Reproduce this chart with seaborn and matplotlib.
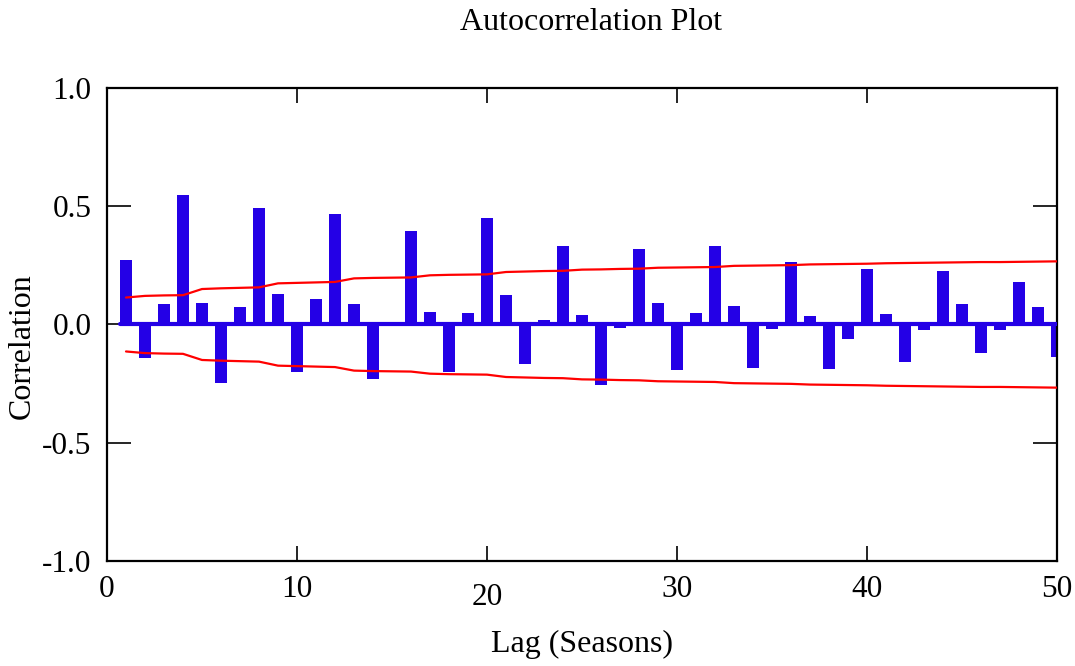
import numpy as np
import pandas as pd
import matplotlib
matplotlib.use("Agg")
import matplotlib.pyplot as plt
from matplotlib.transforms import ScaledTranslation
import seaborn as sns

# ---- data ----
lags = list(range(1, 51))
acf = [0.272, -0.141, 0.088, 0.548, 0.092, -0.247, 0.076, 0.493, 0.127, -0.200,
       0.109, 0.469, 0.088, -0.230, 0.011, 0.395, 0.051, -0.199, 0.048, 0.450,
       0.125, -0.165, 0.018, 0.330, 0.042, -0.257, -0.014, 0.320, 0.092, -0.193,
       0.048, 0.333, 0.077, -0.186, -0.017, 0.265, 0.037, -0.187, -0.062, 0.234,
       0.044, -0.158, -0.025, 0.225, 0.086, -0.121, -0.022, 0.178, 0.073, -0.137]
upper = [0.114, 0.121, 0.123, 0.124, 0.150, 0.153, 0.155, 0.157, 0.174, 0.176,
         0.178, 0.180, 0.195, 0.197, 0.198, 0.199, 0.208, 0.210, 0.211, 0.212,
         0.222, 0.224, 0.226, 0.227, 0.232, 0.233, 0.235, 0.236, 0.240, 0.241,
         0.242, 0.243, 0.248, 0.249, 0.250, 0.251, 0.254, 0.255, 0.256, 0.257,
         0.259, 0.260, 0.261, 0.262, 0.263, 0.264, 0.264, 0.265, 0.266, 0.267]
lower = [-0.114, -0.121, -0.123, -0.124, -0.150, -0.153, -0.155, -0.157, -0.174, -0.176,
         -0.178, -0.180, -0.195, -0.197, -0.198, -0.199, -0.208, -0.210, -0.211, -0.212,
         -0.222, -0.224, -0.226, -0.227, -0.232, -0.233, -0.235, -0.236, -0.240, -0.241,
         -0.242, -0.243, -0.248, -0.249, -0.250, -0.251, -0.254, -0.255, -0.256, -0.257,
         -0.259, -0.260, -0.261, -0.262, -0.263, -0.264, -0.264, -0.265, -0.266, -0.267]
xticks = [0, 10, 20, 30, 40, 50]
yticks = [-1.0, -0.5, 0.0, 0.5, 1.0]

title = "Autocorrelation Plot"
xlabel = "Lag (Seasons)"
ylabel = "Correlation"

BLUE = "#2400E6"
RED = "#FF0000"

sns.set_theme(style="white")
plt.rcParams["font.family"] = ["Liberation Serif", "DejaVu Serif"]
plt.rcParams["axes.unicode_minus"] = False

fig = plt.figure(figsize=(10.75, 6.66), dpi=100)
ax = fig.add_axes([107 / 1075, 1 - 561 / 666, (1057 - 107) / 1075, (561 - 88) / 666])

df = pd.DataFrame({"lag": lags, "acf": acf, "upper": upper, "lower": lower})

sns.barplot(data=df, x="lag", y="acf", native_scale=True, width=0.58,
            color=BLUE, saturation=1, edgecolor="none", ax=ax, zorder=2)
ax.axhline(0, xmin=(1 - 0.29) / 50, xmax=1, color=BLUE, lw=3, zorder=3)
sns.lineplot(data=df, x="lag", y="upper", color=RED, lw=1.6, ax=ax, zorder=4)
sns.lineplot(data=df, x="lag", y="lower", color=RED, lw=1.6, ax=ax, zorder=4)

ax.set_xlim(0, 50)
ax.set_ylim(-1, 1)
ax.set_xticks(xticks)
ax.set_xticklabels([str(t) for t in xticks])
ax.set_yticks(yticks)
ax.set_yticklabels([f"{t:.1f}" for t in yticks])

for s in ax.spines.values():
    s.set_visible(True)
    s.set_color("black")
    s.set_linewidth(1.6)

ax.tick_params(axis="x", direction="in", length=11, width=1.2, top=True, bottom=True,
               labelsize=22.5, pad=10, colors="black")
ax.tick_params(axis="y", direction="in", length=17, width=1.2, left=True, right=True,
               labelsize=22.5, pad=11, colors="black")

ax.set_xlabel(xlabel, fontsize=23, color="black")
ax.set_ylabel(ylabel, fontsize=23, color="black")
ax.xaxis.set_label_coords(0.5, -0.146)
ax.yaxis.set_label_coords(-0.074, 0.455)

fig.text(591 / 1075, 1 - 22 / 666, title, ha="center", va="center", fontsize=23, color="black")

# the "20" label sits slightly lower in the reference
for lab in ax.get_xticklabels():
    if lab.get_text() == "20":
        lab.set_transform(lab.get_transform() + ScaledTranslation(0, -8 / 100, fig.dpi_scale_trans))

ax.grid(False)
fig.savefig("out.png", dpi=100, facecolor="white")
